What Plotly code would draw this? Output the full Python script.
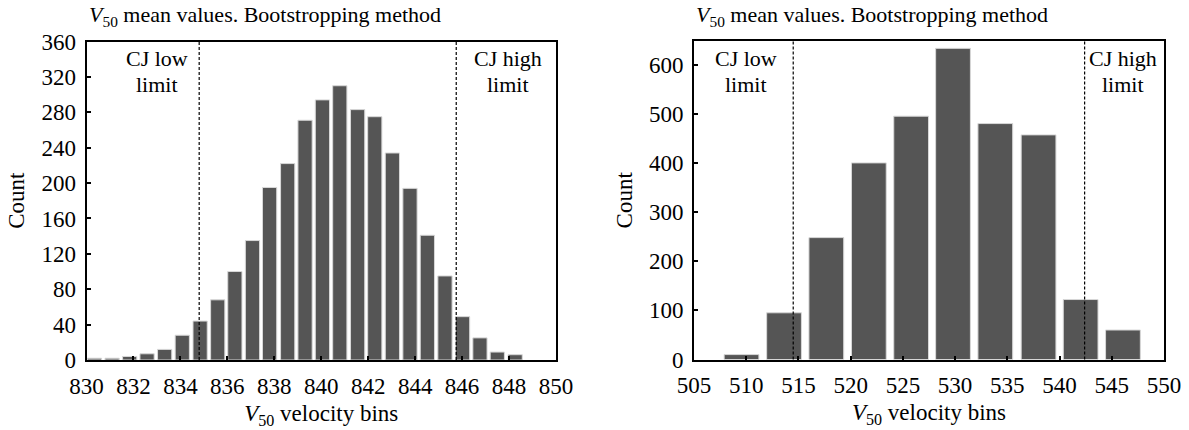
import plotly.graph_objects as go
from plotly.subplots import make_subplots

# ---- data: left panel ----
left_bins = [830.34, 831.09, 831.84, 832.58, 833.33, 834.08, 834.84, 835.59, 836.32,
             837.07, 837.80, 838.57, 839.31, 840.05, 840.79, 841.55, 842.28, 843.03,
             843.78, 844.52, 845.27, 846.02, 846.76, 847.50, 848.26]
left_counts = [2, 2, 4, 7, 12, 28, 44, 68, 100, 135, 195, 222, 271, 294, 310, 283,
               275, 234, 194, 141, 95, 49, 25, 9, 6]
left_cj_low = 834.8
left_cj_high = 845.75

# ---- data: right panel ----
right_bins = [509.55, 513.62, 517.67, 521.74, 525.79, 529.80, 533.85, 537.99, 542.02, 546.07]
right_counts = [10, 95, 248, 400, 495, 633, 480, 457, 122, 60]
right_cj_low = 514.5
right_cj_high = 542.4

left_ticks = list(range(830, 851, 2))
right_ticks = list(range(505, 551, 5))

FONT = "Liberation Serif"
BAR = "#555555"
W, H = 1189, 430
FS = 23

fig = make_subplots(rows=1, cols=2)

fig.add_trace(go.Bar(x=left_bins, y=left_counts, marker_color=BAR,
                     marker_line_color="#d8d8d8", marker_line_width=1,
                     showlegend=False), row=1, col=1)
fig.add_trace(go.Bar(x=right_bins, y=right_counts, marker_color=BAR,
                     marker_line_color="#d8d8d8", marker_line_width=1,
                     showlegend=False), row=1, col=2)

def px_x(p):
    return p / W

def px_y(p):
    return 1 - p / H

axis_common = dict(showline=True, linecolor="black", linewidth=2, mirror=True,
                   ticks="inside", ticklen=4, tickwidth=1.5, tickcolor="black",
                   showgrid=False, zeroline=False, automargin=False,
                   tickfont=dict(family=FONT, size=FS, color="black"))

xtitle = "<i>V</i><sub>50</sub> velocity bins"

fig.update_layout(
    width=W, height=H, margin=dict(l=0, r=0, t=0, b=0, autoexpand=False),
    plot_bgcolor="white", paper_bgcolor="white",
    bargap=0.17,
    font=dict(family=FONT, size=FS, color="black"),
    xaxis=dict(domain=[px_x(86.5), px_x(556)], range=[830, 850],
               tickvals=left_ticks, ticklabelstandoff=4, **axis_common,
               title=dict(text=xtitle, standoff=7, font=dict(family=FONT, size=FS))),
    yaxis=dict(domain=[px_y(360), px_y(41.5)], range=[0, 360], dtick=40,
               ticklabelstandoff=4, **axis_common,
               title=dict(text="Count", standoff=10, font=dict(family=FONT, size=FS))),
    xaxis2=dict(domain=[px_x(694), px_x(1164)], range=[505, 550],
                tickvals=right_ticks, ticklabelstandoff=4, **axis_common,
                title=dict(text=xtitle, standoff=7, font=dict(family=FONT, size=FS))),
    yaxis2=dict(domain=[px_y(359.5), px_y(41)], range=[0, 648], dtick=100,
                ticklabelstandoff=4, **axis_common,
                title=dict(text="Count", standoff=10, font=dict(family=FONT, size=FS))),
)

# dashed CJ limit lines
for xr, yr, xv in [("x", "y domain", left_cj_low), ("x", "y domain", left_cj_high),
                   ("x2", "y2 domain", right_cj_low), ("x2", "y2 domain", right_cj_high)]:
    fig.add_shape(type="line", xref=xr, yref=yr, x0=xv, x1=xv, y0=0, y1=1,
                  line=dict(color="black", width=1.2, dash="3px,2px"))

title_txt = "<i>V</i><sub>50</sub> mean values. Bootstropping method"
ann = []
for x0 in [86.5, 694]:
    ann.append(dict(text=title_txt, xref="paper", yref="paper", x=px_x(x0), y=px_y(16),
                    xanchor="left", yanchor="middle", showarrow=False,
                    font=dict(family=FONT, size=22, color="black")))

labels = [("x", 833.0, "CJ low", "limit"), ("x", 847.95, "CJ high", "limit"),
          ("x2", 510.0, "CJ low", "limit"), ("x2", 546.1, "CJ high", "limit")]
for xr, xv, l1, l2 in labels:
    for txt, yp in [(l1, 59), (l2, 84.5)]:
        ann.append(dict(text=txt, xref=xr, yref="paper", x=xv, y=px_y(yp),
                        xanchor="center", yanchor="middle", showarrow=False,
                        font=dict(family=FONT, size=22, color="black")))
fig.update_layout(annotations=ann)

fig.write_html("out.html")
